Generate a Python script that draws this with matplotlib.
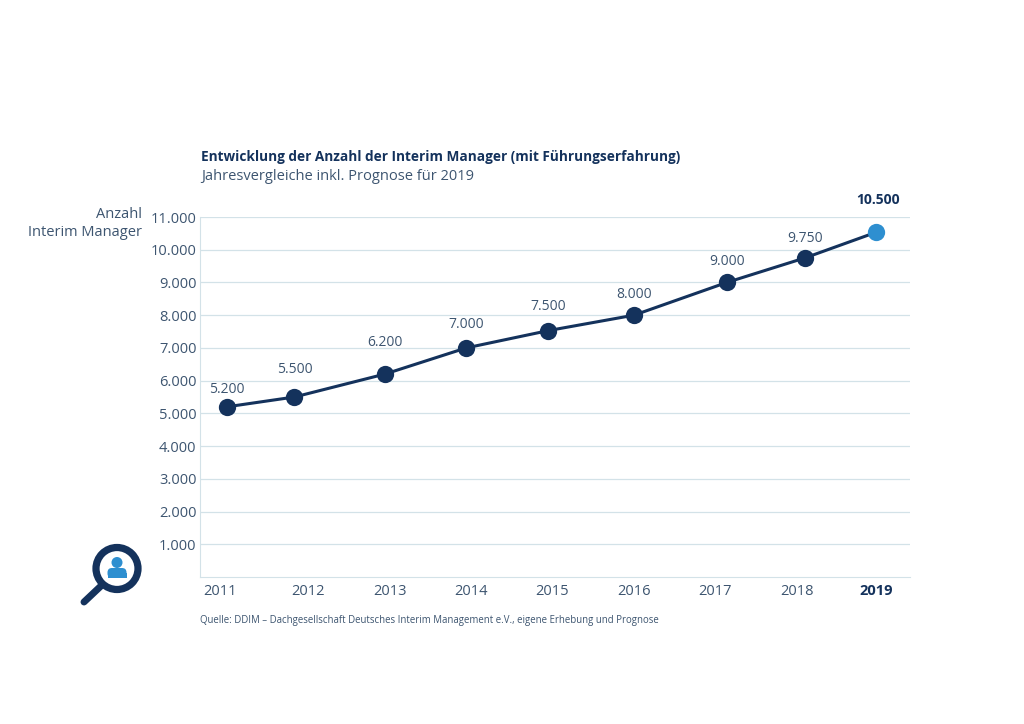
import matplotlib
matplotlib.use("Agg")
import matplotlib.pyplot as plt
from matplotlib.patches import Circle, FancyBboxPatch, Rectangle
from matplotlib.lines import Line2D

# DATA
years = ["2011", "2012", "2013", "2014", "2015", "2016", "2017", "2018", "2019"]
managers = [5200, 5500, 6200, 7000, 7530, 8000, 9000, 9750, 10530]
value_labels = ["5.200", "5.500", "6.200", "7.000", "7.500", "8.000", "9.000", "9.750", "10.500"]
y_ticks = [1000, 2000, 3000, 4000, 5000, 6000, 7000, 8000, 9000, 10000, 11000]
y_tick_labels = ["1.000", "2.000", "3.000", "4.000", "5.000", "6.000", "7.000", "8.000", "9.000", "10.000", "11.000"]

# the points are not centred on their year labels in the original
point_x = [2011.0, 2011.83, 2012.94, 2013.94, 2014.95, 2016.0, 2017.14, 2018.1, 2018.97]
tick_x = [2010.91, 2012.0, 2013.0, 2014.0, 2015.0, 2016.0, 2017.0, 2018.0, 2018.98]
# label height above its point, in pixels
label_lift = [17, 28, 32, 23, 24, 21, 21, 19, 32]

navy = "#14325c"
text_col = "#3d5570"
light_blue = "#2e8fd0"
grid_col = "#d3e2e8"

plt.rcParams['font.family'] = ['Open Sans', 'DejaVu Sans']

W, H = 1024, 724
fig = plt.figure(figsize=(W / 100, H / 100), dpi=100)
ax = fig.add_axes([200 / W, 1 - 577 / H, 710 / W, (577 - 217) / H])

ax.plot(point_x, managers, color=navy, lw=2.2, zorder=3)
ax.scatter(point_x[:-1], managers[:-1], s=155, color=navy, zorder=4, linewidths=0)
ax.scatter(point_x[-1], managers[-1], s=155, color=light_blue, zorder=4, linewidths=0)

ax.set_xlim(2010.67, 2019.39)
ax.set_ylim(0, 11000)
ax.set_yticks(y_ticks)
ax.set_yticklabels(y_tick_labels, fontsize=10.5, color=text_col)
ax.set_xticks(tick_x)
ax.set_xticklabels(years, fontsize=10.5, color=text_col)
ax.get_xticklabels()[-1].set_fontweight("bold")
ax.get_xticklabels()[-1].set_color(navy)
ax.tick_params(axis="both", length=0)
ax.tick_params(axis="y", pad=2.6)
ax.tick_params(axis="x", pad=5)
ax.grid(axis="y", color=grid_col, lw=0.9)
ax.set_axisbelow(True)
for side in ["top", "right"]:
    ax.spines[side].set_visible(False)
ax.spines["bottom"].set_color(grid_col)
ax.spines["left"].set_color(grid_col)

for i, lab in enumerate(value_labels):
    last = i == len(value_labels) - 1
    ax.annotate(lab, (point_x[i], managers[i]), xytext=(1.5 if last else 0, label_lift[i] * 0.72),
                textcoords="offset points", ha="center", va="center", fontsize=10,
                fontweight="bold" if last else "normal", color=navy if last else text_col)

fig.text(201 / W, 1 - 157 / H, "Entwicklung der Anzahl der Interim Manager (mit Führungserfahrung)",
         fontsize=9.8, fontweight="bold", color=navy, va="center")
fig.text(201 / W, 1 - 176 / H, "Jahresvergleiche inkl. Prognose für 2019",
         fontsize=10.5, color=text_col, va="center")
fig.text(142 / W, 1 - 214 / H, "Anzahl", fontsize=10.5, color=text_col, ha="right", va="center")
fig.text(142 / W, 1 - 232 / H, "Interim Manager", fontsize=10.5, color=text_col, ha="right", va="center")
fig.text(200 / W, 1 - 621 / H, "Quelle: DDIM – Dachgesellschaft Deutsches Interim Management e.V., eigene Erhebung und Prognose",
         fontsize=6.9, color=text_col, va="center")

# magnifier icon, in pixel coords
icon = fig.add_axes([0, 0, 1, 1], facecolor="none")
icon.set_xlim(0, W)
icon.set_ylim(H, 0)
icon.axis("off")
icon.add_line(Line2D([84, 102], [602, 585], color=navy, lw=5, solid_capstyle="round"))
icon.add_patch(Circle((117, 568.5), 21, facecolor="white", edgecolor=navy, lw=5.2))
icon.add_patch(Circle((117, 562.5), 5.5, facecolor=light_blue, edgecolor="none"))
icon.add_patch(FancyBboxPatch((107.5, 568), 19, 10, boxstyle="round,pad=0,rounding_size=4.5",
                              facecolor=light_blue, edgecolor="none"))
icon.add_patch(Rectangle((107.5, 573), 19, 5, facecolor=light_blue, edgecolor="none"))

fig.savefig("out.png", dpi=100)
